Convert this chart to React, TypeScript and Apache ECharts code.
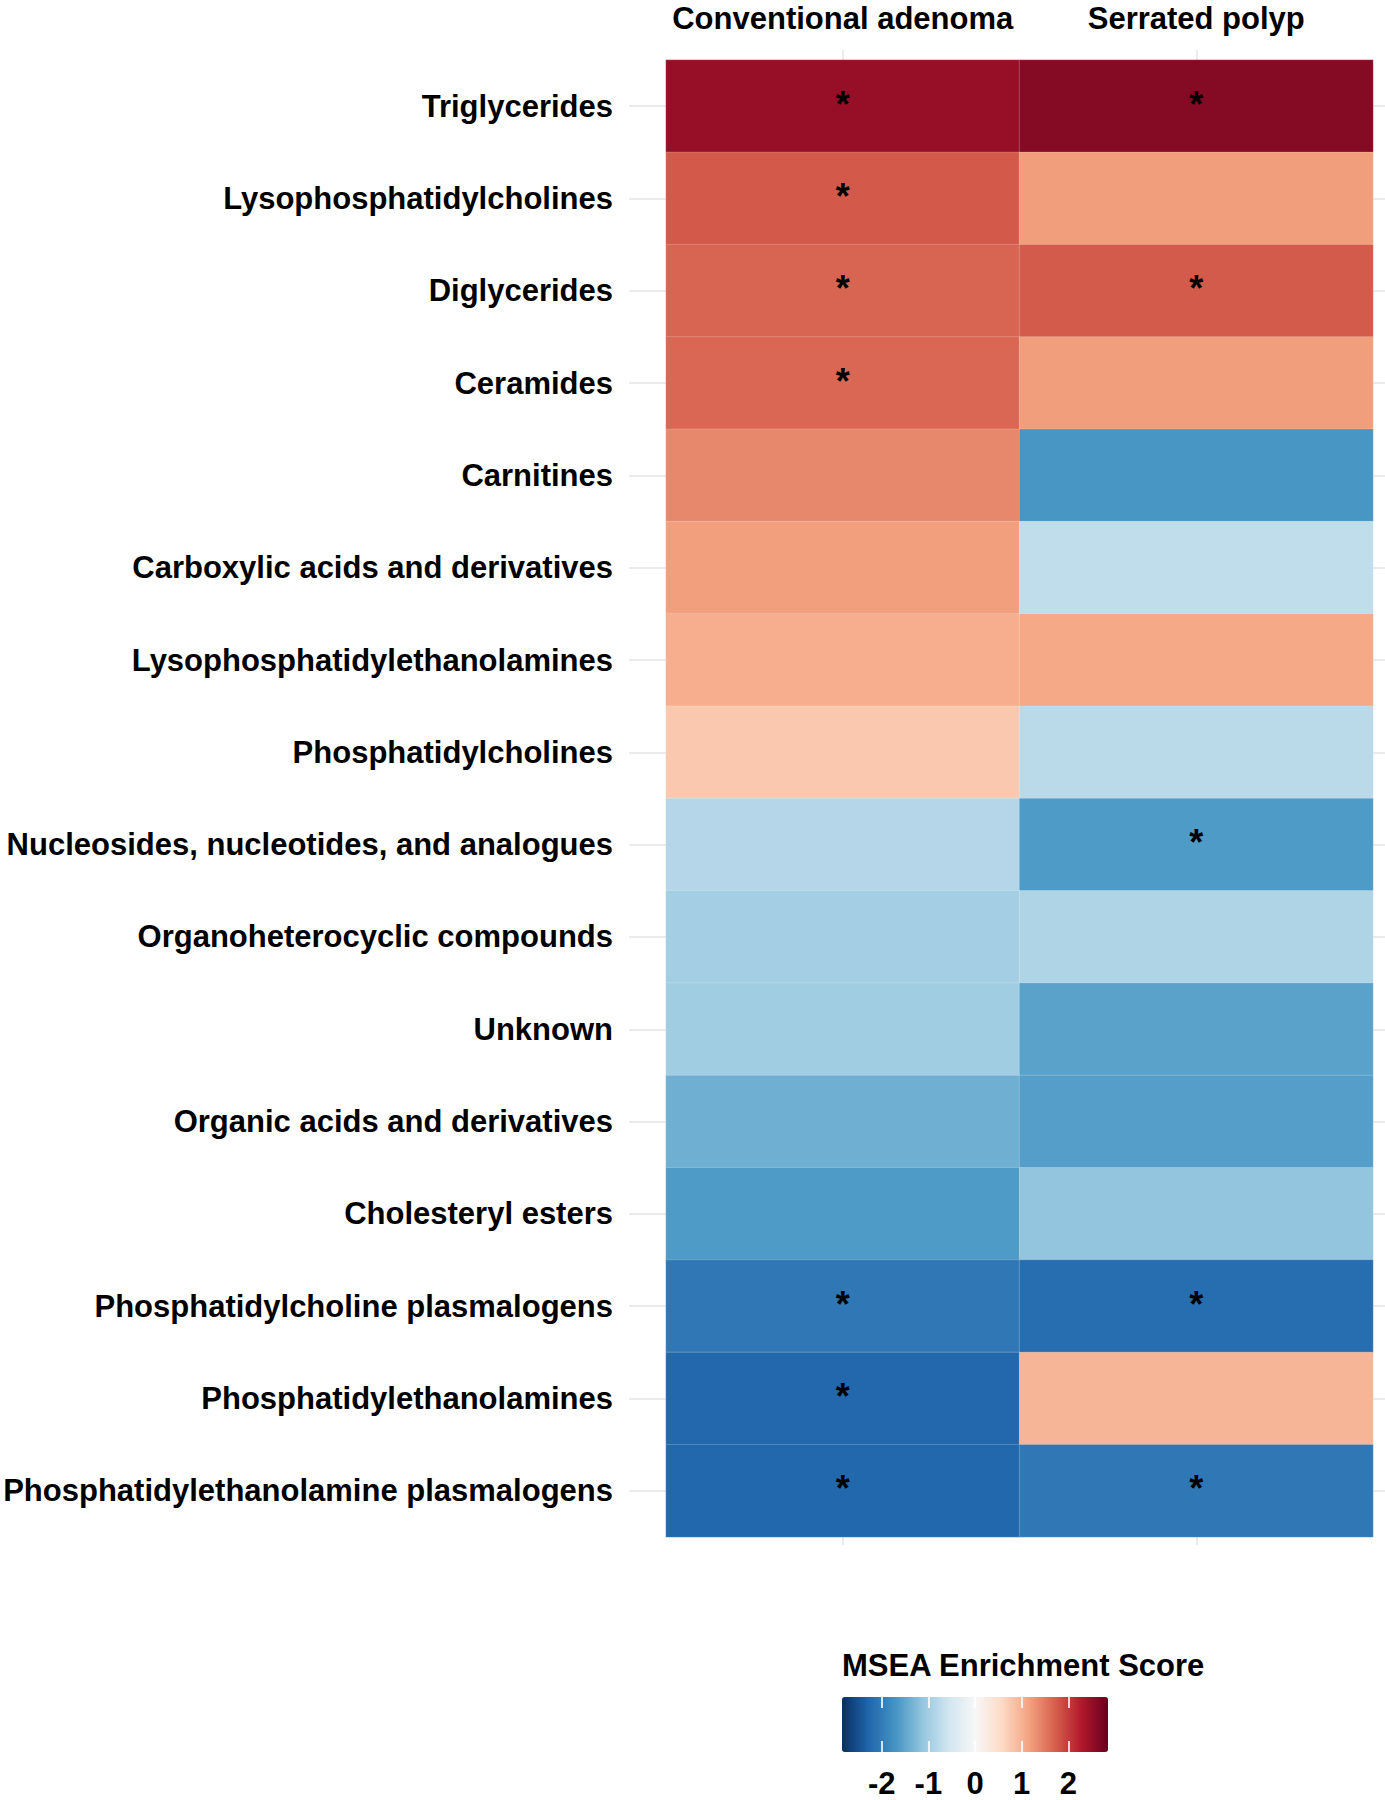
import React, { useEffect, useRef } from "react";
import * as echarts from "echarts";

const columns = ["Conventional adenoma", "Serrated polyp"];
const classes = [
  "Triglycerides",
  "Lysophosphatidylcholines",
  "Diglycerides",
  "Ceramides",
  "Carnitines",
  "Carboxylic acids and derivatives",
  "Lysophosphatidylethanolamines",
  "Phosphatidylcholines",
  "Nucleosides, nucleotides, and analogues",
  "Organoheterocyclic compounds",
  "Unknown",
  "Organic acids and derivatives",
  "Cholesteryl esters",
  "Phosphatidylcholine plasmalogens",
  "Phosphatidylethanolamines",
  "Phosphatidylethanolamine plasmalogens",
];
const conventionalScores = [2.49, 1.76, 1.67, 1.65, 1.39, 1.19, 1.04, 0.77, -0.83, -0.98, -1.0, -1.39, -1.62, -2.05, -2.25, -2.26];
const serratedScores = [2.62, 1.2, 1.75, 1.2, -1.68, -0.72, 1.1, -0.78, -1.62, -0.88, -1.54, -1.58, -1.13, -2.18, 0.97, -2.05];
const conventionalSignificant = [1, 1, 1, 1, 0, 0, 0, 0, 0, 0, 0, 0, 0, 1, 1, 1];
const serratedSignificant = [1, 0, 1, 0, 0, 0, 0, 0, 1, 0, 0, 0, 0, 1, 0, 1];
const scaleLimit = 2.85;
const legendTicks = [-2, -1, 0, 1, 2];
const rdBu = ["#053061", "#2166ac", "#4393c3", "#92c5de", "#d1e5f0", "#f7f7f7", "#fddbc7", "#f4a582", "#d6604d", "#b2182b", "#67001f"];

const FONT = "'Liberation Sans', Arial, sans-serif";

export default function App() {
  const ref = useRef<HTMLDivElement>(null);
  useEffect(() => {
    if (!ref.current) return;
    const chart = echarts.init(ref.current, null, { renderer: "svg" });
    const data: any[] = [];
    classes.forEach((_, i) => {
      data.push([0, i, conventionalScores[i], conventionalSignificant[i]]);
      data.push([1, i, serratedScores[i], serratedSignificant[i]]);
    });
    const gridLine = { color: "#ebebeb", width: 2 };
    chart.setOption({
      animation: false,
      backgroundColor: "#ffffff",
      textStyle: { fontFamily: FONT },
      title: {
        text: "MSEA Enrichment Score",
        left: 842,
        top: 1650,
        padding: 0,
        textStyle: { fontFamily: FONT, fontSize: 31, fontWeight: "bold", color: "#000" },
      },
      grid: [
        { left: 666, top: 60, width: 707, height: 1477, containLabel: false },
        { left: 842, top: 1697, width: 266, height: 55, containLabel: false },
      ],
      xAxis: [
        {
          type: "category",
          gridIndex: 0,
          position: "top",
          data: columns,
          axisLine: { show: false },
          axisTick: { show: true, alignWithLabel: true, length: 10, lineStyle: gridLine },
          axisLabel: { interval: 0, fontFamily: FONT, fontSize: 31, fontWeight: "bold", color: "#000", margin: 26 },
          splitLine: { show: false },
        },
        {
          type: "category",
          gridIndex: 0,
          position: "bottom",
          data: columns,
          axisLine: { show: false },
          axisTick: { show: true, alignWithLabel: true, interval: 0, length: 8, lineStyle: gridLine },
          axisLabel: { show: false },
          splitLine: { show: false },
        },
        {
          type: "value",
          gridIndex: 1,
          position: "bottom",
          min: -scaleLimit,
          max: scaleLimit,
          z: 10,
          axisLine: { show: false },
          axisTick: { show: true, inside: true, length: 11, customValues: legendTicks, lineStyle: { color: "rgba(255,255,255,0.8)", width: 2 } },
          axisLabel: { customValues: legendTicks, fontFamily: FONT, fontSize: 31, fontWeight: "bold", color: "#000", margin: 16 },
          splitLine: { show: false },
        },
        {
          type: "value",
          gridIndex: 1,
          position: "top",
          min: -scaleLimit,
          max: scaleLimit,
          z: 10,
          axisLine: { show: false },
          axisTick: { show: true, inside: true, length: 11, customValues: legendTicks, lineStyle: { color: "rgba(255,255,255,0.8)", width: 2 } },
          axisLabel: { show: false },
          splitLine: { show: false },
        },
      ],
      yAxis: [
        {
          type: "category",
          gridIndex: 0,
          inverse: true,
          position: "left",
          data: classes,
          axisLine: { show: false },
          axisTick: { show: true, alignWithLabel: true, interval: 0, length: 37, lineStyle: gridLine },
          axisLabel: { interval: 0, fontFamily: FONT, fontSize: 31, fontWeight: "bold", color: "#000", margin: 53 },
          splitLine: { show: false },
        },
        {
          type: "category",
          gridIndex: 0,
          inverse: true,
          position: "right",
          data: classes,
          axisLine: { show: false },
          axisTick: { show: true, alignWithLabel: true, interval: 0, length: 12, lineStyle: gridLine },
          axisLabel: { show: false },
          splitLine: { show: false },
        },
        { type: "value", gridIndex: 1, show: false, min: 0, max: 1 },
      ],
      visualMap: {
        type: "continuous",
        min: -scaleLimit,
        max: scaleLimit,
        dimension: 2,
        seriesIndex: 0,
        orient: "horizontal",
        left: 842,
        top: 1697,
        padding: 0,
        itemWidth: 55,
        itemHeight: 266,
        calculable: false,
        hoverLink: false,
        text: ["", ""],
        showLabel: false,
        inRange: { color: rdBu },
      },
      series: [
        {
          type: "heatmap",
          xAxisIndex: 0,
          yAxisIndex: 0,
          data,
          itemStyle: { borderColor: "rgba(255,255,255,0.3)", borderWidth: 0.6 },
          label: {
            show: true,
            formatter: (p: any) => (p.data[3] ? "*" : ""),
            fontFamily: FONT,
            fontSize: 36,
            fontWeight: "bold",
            color: "#000",
            offset: [0, -2],
          },
          emphasis: { disabled: true },
        },
      ],
    });
    return () => chart.dispose();
  }, []);
  return <div ref={ref} style={{ position: "absolute", left: 0, top: 0, width: 1385, height: 1800 }} />;
}
